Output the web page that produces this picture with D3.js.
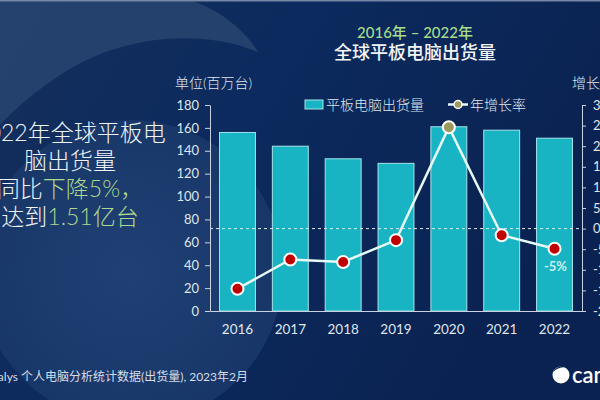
<!DOCTYPE html>
<html>
<head>
<meta charset="utf-8">
<script src="https://cdn.jsdelivr.net/npm/d3@7"></script>
<style>
  html, body { margin: 0; padding: 0; background: #0b2455; }
  svg { display: block; font-family: "Lato", "Noto Sans CJK SC", sans-serif; }
</style>
</head>
<body>
<div id="chart"><svg></svg></div>
<script>
// chart data
const years = ["2016", "2017", "2018", "2019", "2020", "2021", "2022"];
const shipments = [156, 144, 133, 129, 161, 158, 151];        // 百万台
const growth = [-14.6, -7.5, -8.1, -2.8, 24.6, -1.6, -4.9];   // %
const leftTicks = [0, 20, 40, 60, 80, 100, 120, 140, 160, 180];
const rightTicks = [-20, -15, -10, -5, 0, 5, 10, 15, 20, 25, 30];

const W = 600, H = 400;
const svg = d3.select("#chart svg").attr("width", W).attr("height", H);

// background
const defs = svg.append("defs");
const bg = defs.append("linearGradient").attr("id", "bg")
    .attr("x1", 0).attr("y1", 0).attr("x2", 1).attr("y2", 0.4);
bg.append("stop").attr("offset", 0).attr("stop-color", "#152f5c");
bg.append("stop").attr("offset", 0.45).attr("stop-color", "#0c2a5e");
bg.append("stop").attr("offset", 1).attr("stop-color", "#0a2251");

const disc = defs.append("radialGradient").attr("id", "disc");
disc.append("stop").attr("offset", 0).attr("stop-color", "#25467a");
disc.append("stop").attr("offset", 1).attr("stop-color", "#1b3a6c");

svg.append("rect").attr("width", W).attr("height", H).attr("fill", "url(#bg)");
svg.append("circle").attr("cx", 131).attr("cy", 272).attr("r", 152)
    .attr("fill", "url(#disc)").attr("opacity", 0.8);
svg.append("path")
    .attr("d", "M0,0 L190,0 C220,10 245,30 258,52 C200,28 120,35 60,75 C35,92 15,108 0,125 Z")
    .attr("fill", "#27446f").attr("opacity", 0.9);
svg.append("rect").attr("width", W).attr("height", 1.5).attr("fill", "#7487a6");

// scales
const plotTop = 105, plotBottom = 311, plotLeft = 210, plotRight = 582;
const x = d3.scaleBand().domain(years).range([plotLeft, plotRight])
    .paddingInner(0.32).paddingOuter(0.18);
const yL = d3.scaleLinear().domain([0, 180]).range([plotBottom, plotTop]);
const yR = d3.scaleLinear().domain([-20, 30]).range([plotBottom, plotTop]);

const barFill = "#18b4c4";
const textCol = "#dfe6ee";
const axisCol = "#c8d3df";

// bars
svg.append("g").selectAll("rect")
    .data(years)
    .enter().append("rect")
    .attr("x", d => x(d))
    .attr("y", (d, i) => yL(shipments[i]))
    .attr("width", x.bandwidth())
    .attr("height", (d, i) => yL(0) - yL(shipments[i]))
    .attr("fill", barFill)
    .attr("stroke", "#a3e4ea")
    .attr("stroke-width", 1);

// zero growth line
svg.append("line")
    .attr("x1", plotLeft).attr("x2", plotRight)
    .attr("y1", yR(0)).attr("y2", yR(0))
    .attr("stroke", "#d4eef2").attr("stroke-width", 1)
    .attr("stroke-dasharray", "3,3");

// axes
const axL = svg.append("g").attr("transform", `translate(${plotLeft},0)`)
    .call(d3.axisLeft(yL).tickValues(leftTicks).tickSize(5).tickSizeOuter(0).tickPadding(6));
const axR = svg.append("g").attr("transform", `translate(${plotRight},0)`)
    .call(d3.axisRight(yR).tickValues(rightTicks).tickSize(4).tickSizeOuter(0).tickPadding(7)
        .tickFormat(d => d + "%"));
const axB = svg.append("g").attr("transform", `translate(0,${plotBottom})`)
    .call(d3.axisBottom(x).tickSize(0).tickSizeOuter(0).tickPadding(13));

[axL, axR, axB].forEach(g => {
    g.selectAll("path, line").attr("stroke", axisCol);
    g.selectAll("text").attr("fill", textCol).style("font-size", "13px")
        .style("font-family", "Lato, 'Noto Sans CJK SC', sans-serif");
});
axB.selectAll("text").style("font-size", "13.5px");

// growth line + markers
const line = d3.line()
    .x((d, i) => x(years[i]) + x.bandwidth() / 2)
    .y(d => yR(d));
svg.append("path").datum(growth)
    .attr("d", line)
    .attr("fill", "none")
    .attr("stroke", "#e6fafa")
    .attr("stroke-width", 2.5);

svg.append("g").selectAll("circle")
    .data(growth)
    .enter().append("circle")
    .attr("cx", (d, i) => x(years[i]) + x.bandwidth() / 2)
    .attr("cy", d => yR(d))
    .attr("r", 6)
    .attr("fill", (d, i) => years[i] === "2020" ? "#9c9a5c" : "#c00000")
    .attr("stroke", "#ffffff")
    .attr("stroke-width", 2);

// last value label
const last = growth.length - 1;
svg.append("text")
    .attr("x", x(years[last]) + x.bandwidth() / 2 + 1)
    .attr("y", yR(growth[last]) + 22)
    .attr("text-anchor", "middle")
    .attr("fill", "#c8f0f0")
    .style("font-size", "13px")
    .style("font-weight", "bold")
    .text("-5%");

// legend
svg.append("rect").attr("x", 305).attr("y", 100).attr("width", 18).attr("height", 9)
    .attr("fill", barFill).attr("stroke", "#a3e4ea");
svg.append("text").attr("x", 326).attr("y", 109.5).attr("fill", textCol)
    .style("font-size", "14px").style("font-weight", 300).text("平板电脑出货量");
svg.append("line").attr("x1", 448).attr("x2", 468).attr("y1", 104.5).attr("y2", 104.5)
    .attr("stroke", "#e6fafa").attr("stroke-width", 2.5);
svg.append("circle").attr("cx", 458).attr("cy", 104.5).attr("r", 4)
    .attr("fill", "#9c9a5c").attr("stroke", "#fff").attr("stroke-width", 1.5);
svg.append("text").attr("x", 470).attr("y", 109.5).attr("fill", textCol)
    .style("font-size", "14px").style("font-weight", 300).text("年增长率");

// axis units
svg.append("text").attr("x", 175).attr("y", 88).attr("fill", textCol)
    .style("font-size", "14px").style("font-weight", 300).text("单位(百万台)");
svg.append("text").attr("x", 572).attr("y", 88).attr("fill", textCol)
    .style("font-size", "14px").style("font-weight", 300).text("增长率");

// titles
svg.append("text").attr("x", 415).attr("y", 38).attr("text-anchor", "middle")
    .attr("fill", "#a6dc8c").style("font-size", "15px").style("font-weight", 500)
    .text("2016年 – 2022年");
svg.append("text").attr("x", 415).attr("y", 59).attr("text-anchor", "middle")
    .attr("fill", "#f2f5f8").style("font-size", "18px").style("font-weight", 500)
    .text("全球平板电脑出货量");

// left headline
const green = "#abd98f";
const head = svg.append("g").style("font-size", "23px").style("font-weight", 300)
    .attr("text-anchor", "middle");
head.append("text").attr("x", 70).attr("y", 141).attr("fill", "#f0f4f8").text("2022年全球平板电");
head.append("text").attr("x", 70).attr("y", 169).attr("fill", "#f0f4f8").text("脑出货量");
const l3 = head.append("text").attr("x", 70).attr("y", 197).attr("fill", "#f0f4f8");
l3.append("tspan").text("同比");
l3.append("tspan").attr("fill", green).text("下降5%，");
const l4 = head.append("text").attr("x", 70).attr("y", 225).attr("fill", "#f0f4f8");
l4.append("tspan").text("达到");
l4.append("tspan").attr("fill", green).text("1.51亿台");

// footer
svg.append("text").attr("x", 248).attr("y", 381).attr("text-anchor", "end")
    .attr("fill", "#d5dde8").style("font-size", "12px")
    .text("Canalys 个人电脑分析统计数据(出货量), 2023年2月");

// logo
svg.append("circle").attr("cx", 561).attr("cy", 375).attr("r", 8.5).attr("fill", "#ffffff");
svg.append("path").attr("d", "M553,372 C556,366 564,364 570,368 C563,366 557,368 553,372 Z")
    .attr("fill", "#0a2251");
svg.append("text").attr("x", 572).attr("y", 383).attr("fill", "#ffffff")
    .style("font-size", "22px").style("font-weight", 600).text("canalys");
</script>
</body>
</html>
